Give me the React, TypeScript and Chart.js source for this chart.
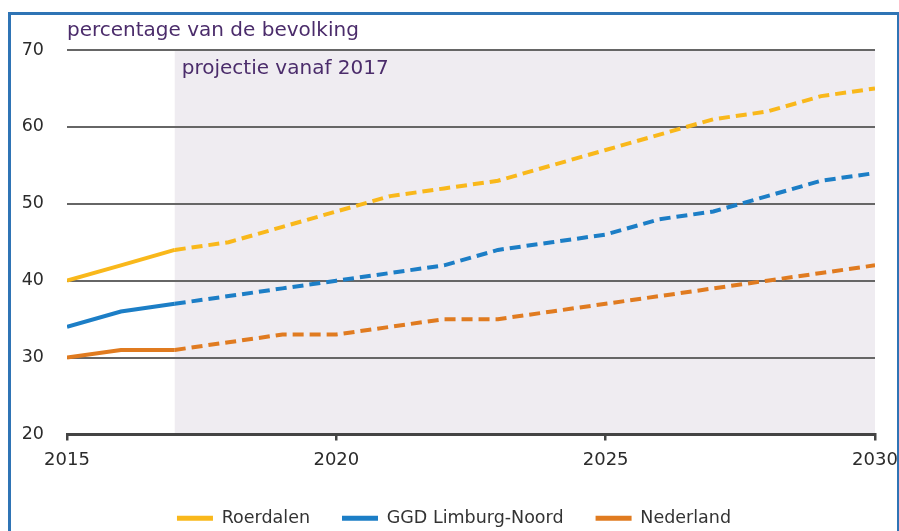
import React, { useEffect, useRef } from "react";
import { Chart, registerables } from "chart.js";

Chart.register(...registerables);

const years = [2015, 2016, 2017, 2018, 2019, 2020, 2021, 2022, 2023, 2024, 2025, 2026, 2027, 2028, 2029, 2030];
const roerdalen = [40, 42, 44, 45, 47, 49, 51, 52, 53, 55, 57, 59, 61, 62, 64, 65];
const limburgNoord = [34, 36, 37, 38, 39, 40, 41, 42, 44, 45, 46, 48, 49, 51, 53, 54];
const nederland = [30, 31, 31, 32, 33, 33, 34, 35, 35, 36, 37, 38, 39, 40, 41, 42];
const seriesNames = ["Roerdalen", "GGD Limburg-Noord", "Nederland"];
const seriesColors = ["#F9B81B", "#1C7EC6", "#E07B20"];
const yTicks = [20, 30, 40, 50, 60, 70];
const xTicks = [2015, 2020, 2025, 2030];
const projectionStart = 2017;
const unitLabel = "percentage van de bevolking";
const projectionLabel = "projectie vanaf 2017";

const FONT = "'DejaVu Sans', Verdana, sans-serif";

export default function App() {
  const ref = useRef<HTMLCanvasElement | null>(null);

  useEffect(() => {
    if (!ref.current) return;
    const allSeries = [roerdalen, limburgNoord, nederland];

    const overlay = {
      id: "overlay",
      beforeDraw(chart: any) {
        const { ctx, chartArea, scales } = chart;
        ctx.save();
        ctx.fillStyle = "#ffffff";
        ctx.fillRect(0, 0, chart.width, chart.height);
        const x0 = scales.x.getPixelForValue(projectionStart);
        ctx.fillStyle = "#EFECF1";
        ctx.fillRect(x0, chartArea.top, chartArea.right - x0, chartArea.bottom - chartArea.top);
        ctx.restore();
      },
      afterDraw(chart: any) {
        const { ctx, chartArea, scales } = chart;
        const x0 = scales.x.getPixelForValue(projectionStart);
        ctx.save();
        ctx.fillStyle = "#4B2C6B";
        ctx.font = "20px " + FONT;
        ctx.textBaseline = "middle";
        ctx.textAlign = "left";
        ctx.fillText(unitLabel, chartArea.left, chartArea.top - 19);
        ctx.fillText(projectionLabel, x0 + 7, chartArea.top + 19);
        ctx.restore();
      },
    };

    const chart = new Chart(ref.current, {
      type: "line",
      data: {
        datasets: allSeries.map((vals, i) => ({
          label: seriesNames[i],
          data: years.map((y, j) => ({ x: y, y: vals[j] })),
          borderColor: seriesColors[i],
          backgroundColor: seriesColors[i],
          borderWidth: 4,
          pointRadius: 0,
          tension: 0,
          segment: {
            borderDash: (c: any) => (years[c.p0DataIndex] >= projectionStart ? [11, 6] : []),
          },
        })),
      },
      options: {
        animation: false,
        responsive: false,
        maintainAspectRatio: false,
        layout: { padding: { top: 50, right: 0, left: 9, bottom: 0 } },
        plugins: {
          tooltip: { enabled: false },
          legend: {
            position: "bottom",
            labels: {
              font: { family: FONT, size: 17.5 },
              color: "#333333",
              boxWidth: 36,
              boxHeight: 5,
              padding: 32,
              generateLabels: (chart: any) =>
                chart.data.datasets.map((d: any, i: number) => ({
                  text: d.label,
                  fillStyle: seriesColors[i],
                  strokeStyle: seriesColors[i],
                  lineWidth: 0,
                  lineDash: [],
                  hidden: false,
                  datasetIndex: i,
                  fontColor: "#333333",
                })),
            },
          },
        },
        scales: {
          x: {
            type: "linear",
            min: 2015,
            max: 2030,
            afterBuildTicks: (s: any) => {
              s.ticks = xTicks.map((v) => ({ value: v }));
            },
            afterFit: (s: any) => {
              s.height = 43;
              s.paddingRight = 24;
              s.paddingLeft = 0;
            },
            border: { display: true, color: "#444444", width: 3 },
            grid: {
              drawOnChartArea: false,
              drawTicks: true,
              tickLength: 6,
              color: "#444444",
              lineWidth: 2.5,
            },
            ticks: {
              padding: 9,
              maxRotation: 0,
              color: "#2b2b2b",
              font: { family: FONT, size: 18 },
              callback: (v: any) => String(v),
            },
          },
          y: {
            min: 20,
            max: 70,
            afterBuildTicks: (s: any) => {
              s.ticks = yTicks.map((v) => ({ value: v }));
            },
            afterFit: (s: any) => {
              s.width = 58;
            },
            border: { display: false },
            grid: { drawTicks: false, color: "#666666", lineWidth: 2 },
            ticks: {
              padding: 23,
              color: "#2b2b2b",
              font: { family: FONT, size: 17.5 },
            },
          },
        },
      },
      plugins: [overlay],
    });
    return () => chart.destroy();
  }, []);

  return (
    <div style={{ position: "fixed", left: 0, top: 0, width: 899, height: 531, background: "#fff", overflow: "hidden" }}>
      <canvas ref={ref} width={899} height={537} style={{ position: "absolute", left: 0, top: 0, width: 899, height: 537 }} />
      <div
        style={{
          position: "absolute",
          left: 8,
          top: 12,
          width: 886,
          height: 560,
          border: "3px solid #2F74B5",
          pointerEvents: "none",
        }}
      />
    </div>
  );
}
